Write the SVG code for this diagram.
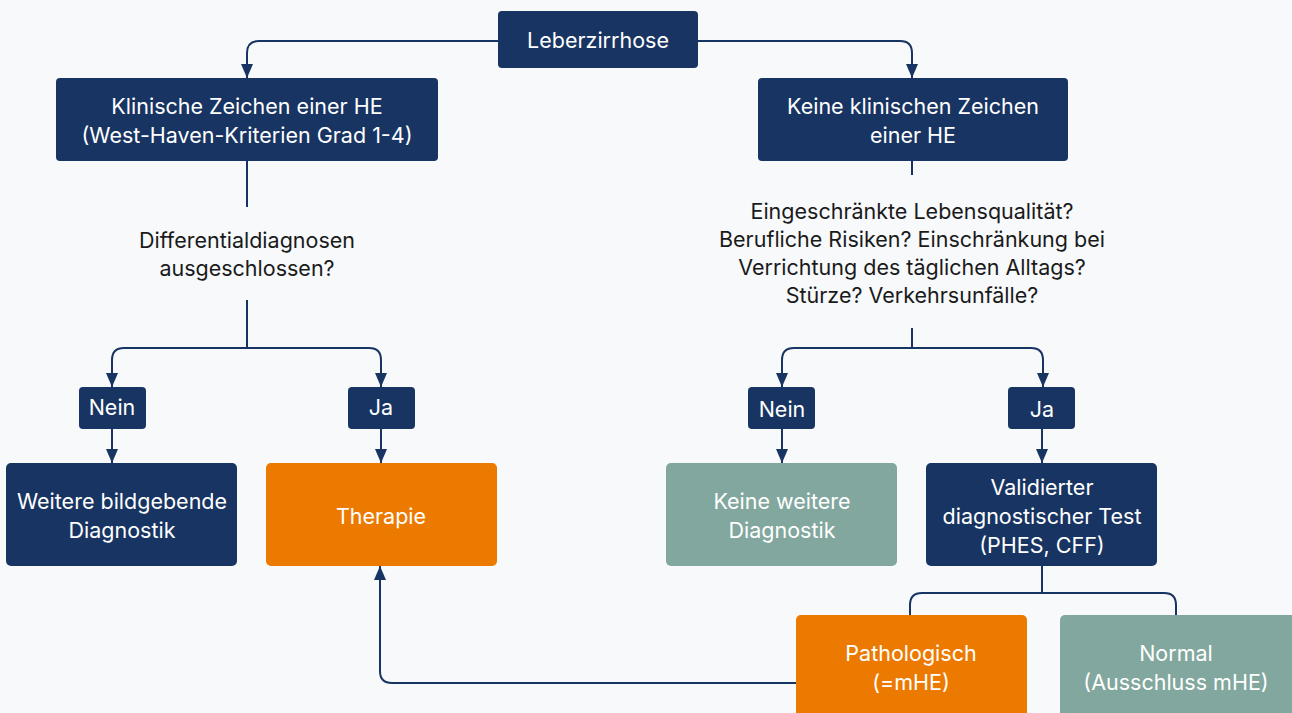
<svg xmlns="http://www.w3.org/2000/svg" width="1292" height="713" viewBox="0 0 1292 713">
<defs>
<marker id="ahd" markerWidth="14" markerHeight="12" refX="14" refY="6" orient="auto" markerUnits="userSpaceOnUse" viewBox="0 0 14 12">
<path d="M0,0 L14,6 L0,12 Z" fill="#183462"/>
</marker>
<style>
.navy{fill:#183462}
.orange{fill:#ed7a00}
.teal{fill:#82a79e}
.t{font-family:Inter,"Liberation Sans",sans-serif;font-size:21.5px;fill:#ffffff;text-anchor:middle}
.q{font-family:Inter,"Liberation Sans",sans-serif;font-size:21.5px;fill:#1a1a1a;text-anchor:middle}
.c{fill:none;stroke:#183462;stroke-width:2}
</style>
</defs>
<rect width="1292" height="713" fill="#f7f9fb"/>
<g id="connectors">
<path class="c" d="M498,41 H259 Q247,41 247,53 V78" marker-end="url(#ahd)"/>
<path class="c" d="M698,41 H900 Q912,41 912,53 V78" marker-end="url(#ahd)"/>
<path class="c" d="M247,161 V207"/>
<path class="c" d="M247,300 V348"/>
<path class="c" d="M247,348 H124 Q112,348 112,360 V387" marker-end="url(#ahd)"/>
<path class="c" d="M247,348 H369 Q381,348 381,360 V387" marker-end="url(#ahd)"/>
<path class="c" d="M112,429 V463" marker-end="url(#ahd)"/>
<path class="c" d="M381,429 V463" marker-end="url(#ahd)"/>
<path class="c" d="M912,161 V175"/>
<path class="c" d="M912,328 V348"/>
<path class="c" d="M912,348 H794 Q782,348 782,360 V387" marker-end="url(#ahd)"/>
<path class="c" d="M912,348 H1031 Q1043,348 1043,360 V387" marker-end="url(#ahd)"/>
<path class="c" d="M782,429 V463" marker-end="url(#ahd)"/>
<path class="c" d="M1042,429 V463" marker-end="url(#ahd)"/>
<path class="c" d="M1042,566 V593"/>
<path class="c" d="M1042,593 H922 Q910,593 910,605 V615"/>
<path class="c" d="M1042,593 H1164 Q1176,593 1176,605 V615"/>
<path class="c" d="M796,683 H392 Q380,683 380,671 V566" marker-end="url(#ahd)"/>
</g>
<g id="n-leber"><rect x="498" y="11" width="200" height="57" rx="4" class="navy"/><text class="t" x="598" y="48">Leberzirrhose</text></g>
<g id="n-klin"><rect x="56" y="78" width="382" height="83" rx="4" class="navy"/><text class="t" x="247" y="114">Klinische Zeichen einer HE</text><text class="t" x="247" y="143">(West-Haven-Kriterien Grad 1-4)</text></g>
<g id="n-keineklin"><rect x="758" y="78" width="310" height="83" rx="4" class="navy"/><text class="t" x="913" y="114">Keine klinischen Zeichen</text><text class="t" x="913" y="143">einer HE</text></g>
<g id="q-diff"><text class="q" x="247" y="248">Differentialdiagnosen</text><text class="q" x="247" y="276">ausgeschlossen?</text></g>
<g id="q-leben"><text class="q" x="912" y="219">Eingeschränkte Lebensqualität?</text><text class="q" x="912" y="247">Berufliche Risiken? Einschränkung bei</text><text class="q" x="912" y="275">Verrichtung des täglichen Alltags?</text><text class="q" x="912" y="303">Stürze? Verkehrsunfälle?</text></g>
<g id="n-nein1"><rect x="79" y="387" width="67" height="42" rx="4" class="navy"/><text class="t" x="112" y="415">Nein</text></g>
<g id="n-ja1"><rect x="348" y="387" width="67" height="42" rx="4" class="navy"/><text class="t" x="381" y="415">Ja</text></g>
<g id="n-nein2"><rect x="748" y="387" width="67" height="42" rx="4" class="navy"/><text class="t" x="782" y="417">Nein</text></g>
<g id="n-ja2"><rect x="1008" y="387" width="67" height="42" rx="4" class="navy"/><text class="t" x="1042" y="417">Ja</text></g>
<g id="n-weitere"><rect x="6" y="463" width="231" height="103" rx="5" class="navy"/><text class="t" x="122" y="509">Weitere bildgebende</text><text class="t" x="122" y="538">Diagnostik</text></g>
<g id="n-therapie"><rect x="266" y="463" width="231" height="103" rx="5" class="orange"/><text class="t" x="381" y="524">Therapie</text></g>
<g id="n-keineweitere"><rect x="666" y="463" width="231" height="103" rx="5" class="teal"/><text class="t" x="782" y="509">Keine weitere</text><text class="t" x="782" y="538">Diagnostik</text></g>
<g id="n-valid"><rect x="926" y="463" width="231" height="103" rx="5" class="navy"/><text class="t" x="1042" y="495">Validierter</text><text class="t" x="1042" y="524">diagnostischer Test</text><text class="t" x="1042" y="553">(PHES, CFF)</text></g>
<g id="n-patho"><rect x="796" y="615" width="231" height="110" rx="5" class="orange"/><text class="t" x="911" y="661">Pathologisch</text><text class="t" x="911" y="690">(=mHE)</text></g>
<g id="n-normal"><rect x="1060" y="615" width="240" height="110" rx="5" class="teal"/><text class="t" x="1176" y="661">Normal</text><text class="t" x="1176" y="690">(Ausschluss mHE)</text></g>
</svg>
